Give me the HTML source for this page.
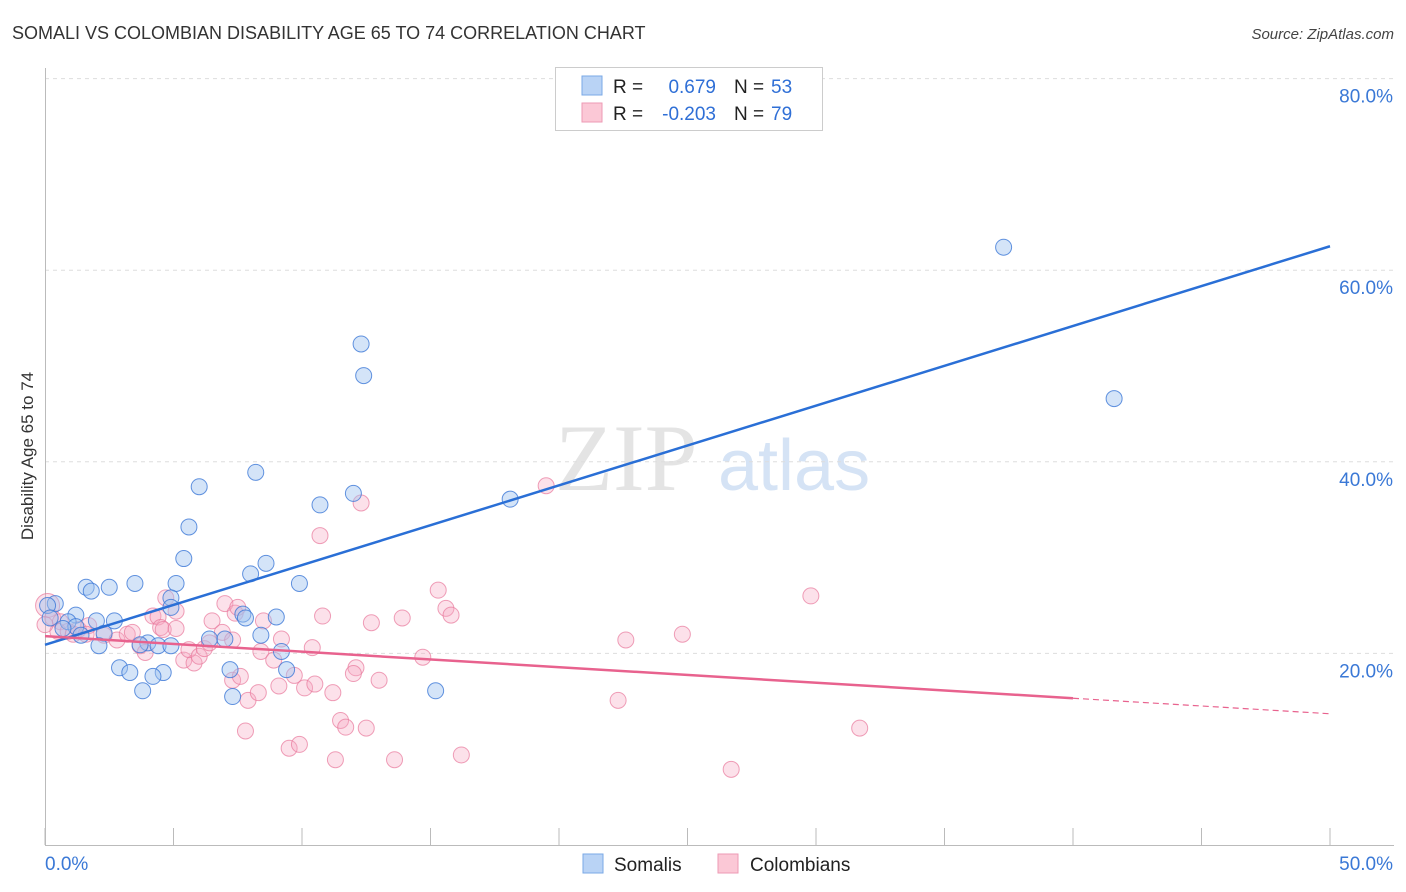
<!DOCTYPE html>
<html><head><meta charset="utf-8">
<style>
body{margin:0;background:#fff;font-family:"Liberation Sans",sans-serif;}
svg{display:block}
</style></head>
<body>
<svg id="chart" width="1406" height="892" xmlns="http://www.w3.org/2000/svg">
<text x="12" y="39" font-size="18" fill="#333">SOMALI VS COLOMBIAN DISABILITY AGE 65 TO 74 CORRELATION CHART</text>
<text x="1394" y="39" font-size="15" fill="#444" font-style="italic" text-anchor="end">Source: ZipAtlas.com</text>
<text x="555" y="490" font-size="95" font-family="Liberation Serif,serif" fill="#e4e4e4">ZIP</text>
<text x="718" y="490" font-size="72" fill="#d5e3f5">atlas</text>
<g id="grid"></g>
<g id="axes"></g>
<g id="points"></g>
<g id="trends"></g>
<text transform="translate(33,456) rotate(-90)" font-size="17" fill="#333" text-anchor="middle">Disability Age 65 to 74</text>
<g>
<rect x="555.5" y="67.5" width="267" height="63" fill="#fff" stroke="#ccc"/>
<rect x="582" y="76" width="20" height="19" fill="#b9d3f5" stroke="#7aa8e6"/>
<rect x="582" y="103" width="20" height="19" fill="#fbc8d6" stroke="#ee9ab4"/>
<text x="613" y="93" font-size="19" fill="#222">R =</text>
<text x="716" y="93" font-size="19" fill="#2f6fd6" text-anchor="end">0.679</text>
<text x="734" y="93" font-size="19" fill="#222">N =</text>
<text x="771" y="93" font-size="19" fill="#2f6fd6">53</text>
<text x="613" y="120" font-size="19" fill="#222">R =</text>
<text x="716" y="120" font-size="19" fill="#2f6fd6" text-anchor="end">-0.203</text>
<text x="734" y="120" font-size="19" fill="#222">N =</text>
<text x="771" y="120" font-size="19" fill="#2f6fd6">79</text>
</g>
<g>
<rect x="583" y="854" width="20" height="19" fill="#b9d3f5" stroke="#7aa8e6"/>
<text x="614" y="871" font-size="19" fill="#222">Somalis</text>
<rect x="718" y="854" width="20" height="19" fill="#fbc8d6" stroke="#ee9ab4"/>
<text x="750" y="871" font-size="19" fill="#222">Colombians</text>
</g>
</svg>
<script>
const somaliX=[37.3,41.6,12.3,12.4,8.2,6.0,10.7,12.0,18.1,5.6,5.4,8.6,9.9,8.0,3.5,5.1,2.5,1.6,1.8,4.9,4.9,7.7,9.0,7.8,2.7,2.0,1.2,0.9,0.4,0.1,1.2,0.7,1.4,2.3,6.4,7.0,8.4,2.1,4.0,4.4,3.7,4.9,9.2,2.9,7.2,9.4,3.3,4.6,4.2,3.8,7.3,15.2,0.2];
const somaliY=[62.4,46.6,52.3,49.0,38.9,37.4,35.5,36.7,36.1,33.2,29.9,29.4,27.3,28.3,27.3,27.3,26.9,26.9,26.5,25.8,24.8,24.1,23.8,23.7,23.4,23.4,24.0,23.3,25.2,25.0,22.8,22.6,21.9,22.1,21.5,21.5,21.9,20.8,21.1,20.8,20.9,20.8,20.2,18.5,18.3,18.3,18.0,18.0,17.6,16.1,15.5,16.1,23.7];
const colX=[0.1,0.3,0.6,0.5,0.9,1.3,1.7,1.1,1.6,2.3,2.8,3.2,3.4,3.7,3.9,4.2,4.4,4.5,4.7,4.6,5.1,5.1,5.4,5.8,5.6,6.0,6.2,6.4,6.5,6.9,7.0,7.3,7.4,7.5,7.3,7.6,7.9,7.8,8.3,8.5,8.4,8.9,9.2,9.1,9.5,9.9,9.7,10.1,10.4,10.5,10.7,10.8,11.2,11.3,11.5,11.7,12.1,12.3,12.5,12.7,12.0,13.0,13.6,13.9,14.7,15.3,15.6,15.8,16.2,19.5,22.3,22.6,24.8,26.7,29.8,31.7,0.0];
const colY=[25.0,23.7,23.3,22.3,22.3,22.5,22.9,22.0,22.0,21.9,21.4,22.0,22.2,20.8,20.1,23.9,23.8,22.7,25.8,22.5,22.6,24.4,19.3,19.0,20.4,19.7,20.5,21.1,23.4,22.2,25.2,21.4,24.2,24.8,17.2,17.6,15.1,11.9,15.9,23.4,20.2,19.3,21.5,16.6,10.1,10.5,17.7,16.4,20.6,16.8,32.3,23.9,15.9,8.9,13.0,12.3,18.5,35.7,12.2,23.2,17.9,17.2,8.9,23.7,19.6,26.6,24.7,24.0,9.4,37.5,15.1,21.4,22.0,7.9,26.0,12.2,23.0];
const yTicks=[20,40,60,80];
const xTickVals=[0,5,10,15,20,25,30,35,40,45,50];
const blueTrend=[20.9,62.5];
const pinkTrend=[21.8,13.7];
const pinkSolidEnd=40;
const NS="http://www.w3.org/2000/svg";
const X=v=>45+v*25.7, Y=v=>845-v*9.58;
function mk(tag,attrs,parent){const e=document.createElementNS(NS,tag);for(const k in attrs)e.setAttribute(k,attrs[k]);parent.appendChild(e);return e;}
const grid=document.getElementById('grid'),axes=document.getElementById('axes'),pts=document.getElementById('points'),tr=document.getElementById('trends');
yTicks.forEach(t=>{
 const l=mk('line',{x1:45,x2:1394,y1:Y(t),y2:Y(t),stroke:'#ddd','stroke-dasharray':'4,4'},grid);
 
 
 const tx=mk('text',{x:1393,y:Y(t)+24,'font-size':19,fill:'#3a78d6','text-anchor':'end'},axes);
 tx.textContent=t.toFixed(1)+'%';
 
 
});
const xl=mk('line',{x1:45,x2:1394,y1:845.5,y2:845.5,stroke:'#bbb'},axes);


const yl=mk('line',{x1:45.5,x2:45.5,y1:68,y2:845,stroke:'#bbb'},axes);


xTickVals.forEach(t=>{
 const l=mk('line',{x1:X(t),x2:X(t),y1:828,y2:845,stroke:'#bbb'},axes);
 
 
});
const t0=mk('text',{x:45,y:870,'font-size':19,fill:'#3a78d6'},axes);t0.textContent='0.0%';


const t1=mk('text',{x:1393,y:870,'font-size':19,fill:'#3a78d6','text-anchor':'end'},axes);t1.textContent='50.0%';


colX.forEach((x,i)=>{
 const c=mk('circle',{cx:X(x),cy:Y(colY[i]),r:i===0?12:8,fill:'rgba(246,170,195,0.35)',stroke:'rgba(232,120,155,0.7)','stroke-width':1},pts);
 
 
});
somaliX.forEach((x,i)=>{
 const c=mk('circle',{cx:X(x),cy:Y(somaliY[i]),r:8,fill:'rgba(160,195,240,0.45)',stroke:'rgba(60,120,215,0.8)','stroke-width':1},pts);
 
 
});
const bl=mk('line',{x1:X(0),y1:Y(blueTrend[0]),x2:X(50),y2:Y(blueTrend[1]),stroke:'#2a6fd6','stroke-width':2.5},tr);


const pAt=v=>pinkTrend[0]+(pinkTrend[1]-pinkTrend[0])*v/50;
const pl=mk('line',{x1:X(0),y1:Y(pAt(0)),x2:X(pinkSolidEnd),y2:Y(pAt(pinkSolidEnd)),stroke:'#e8628e','stroke-width':2.5},tr);


const pd=mk('line',{x1:X(pinkSolidEnd),y1:Y(pAt(pinkSolidEnd)),x2:X(50),y2:Y(pAt(50)),stroke:'#e8628e','stroke-width':1.2,'stroke-dasharray':'6,4'},tr);


</script>
</body></html>
